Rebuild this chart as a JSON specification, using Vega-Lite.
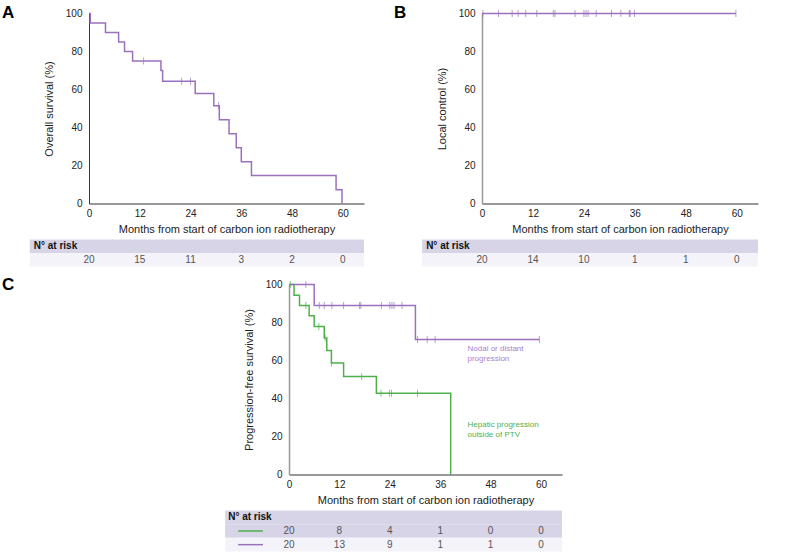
{
"$schema": "https://vega.github.io/schema/vega-lite/v6.json",
"background": "white",
"padding": {"left": 2, "top": 3.5, "right": 5, "bottom": 5},
"config": {
  "font": "Liberation Sans",
  "view": {"stroke": null},
  "axis": {"grid": false, "ticks": false, "labelFontSize": 10, "titleFontSize": 11, "titleFontWeight": "normal", "labelColor": "#222", "titleColor": "#222", "domainColor": "#333", "domainWidth": 1, "labelOverlap": false, "labelFlush": false},
  "axisX": {"labelPadding": 5, "titlePadding": 5, "tickCount": 8},
  "axisY": {"labelPadding": 7, "titlePadding": 11, "tickCount": 8},
  "title": {"anchor": "start", "frame": "group", "fontSize": 17, "fontWeight": "bold", "color": "#000"}
},
"datasets": {
  "os": [{"t":0,"s":100},{"t":0.3,"s":95},{"t":3.9,"s":90},{"t":7.0,"s":85},{"t":8.4,"s":80},{"t":10.3,"s":75},{"t":17.0,"s":70},{"t":17.4,"s":64.3},{"t":25.1,"s":57.9},{"t":29.5,"s":51.4},{"t":30.8,"s":44.1},{"t":33.1,"s":36.7},{"t":34.8,"s":29.4},{"t":36.0,"s":22.0},{"t":38.4,"s":14.7},{"t":58.4,"s":7.3},{"t":59.8,"s":0}],
  "os_cens": [{"t":12.9,"s":75},{"t":21.9,"s":64.3},{"t":24.0,"s":64.3},{"t":30.6,"s":51.4}],
  "lc": [{"t":0,"s":100},{"t":59.8,"s":100}],
  "lc_cens": [{"t":0.2,"s":100},{"t":3.9,"s":100},{"t":7.1,"s":100},{"t":8.5,"s":100},{"t":10.3,"s":100},{"t":12.9,"s":100},{"t":16.8,"s":100},{"t":17.2,"s":100},{"t":21.9,"s":100},{"t":24.0,"s":100},{"t":24.5,"s":100},{"t":25.0,"s":100},{"t":26.9,"s":100},{"t":30.5,"s":100},{"t":32.7,"s":100},{"t":34.7,"s":100},{"t":34.9,"s":100},{"t":35.9,"s":100},{"t":59.8,"s":100}],
  "pfs": [
    {"grp":"Hepatic","t":0,"s":100},{"grp":"Hepatic","t":1.2,"s":94.4},{"grp":"Hepatic","t":2.5,"s":88.9},{"grp":"Hepatic","t":4.8,"s":83.5},{"grp":"Hepatic","t":6.0,"s":77.9},{"grp":"Hepatic","t":8.4,"s":71.9},{"grp":"Hepatic","t":9.0,"s":65.2},{"grp":"Hepatic","t":10.1,"s":58.7},{"grp":"Hepatic","t":13.0,"s":51.6},{"grp":"Hepatic","t":20.8,"s":42.8},{"grp":"Hepatic","t":38.5,"s":0},
    {"grp":"Nodal","t":0,"s":100},{"grp":"Nodal","t":6.0,"s":88.9},{"grp":"Nodal","t":30.1,"s":71.1},{"grp":"Nodal","t":59.6,"s":71.1}
  ],
  "pfs_cens": [
    {"grp":"Hepatic","t":0.3,"s":100},{"grp":"Hepatic","t":4.0,"s":88.9},{"grp":"Hepatic","t":7.1,"s":77.9},{"grp":"Hepatic","t":8.6,"s":71.9},{"grp":"Hepatic","t":10.1,"s":58.7},{"grp":"Hepatic","t":17.3,"s":51.6},{"grp":"Hepatic","t":21.9,"s":42.8},{"grp":"Hepatic","t":23.9,"s":42.8},{"grp":"Hepatic","t":24.4,"s":42.8},{"grp":"Hepatic","t":30.6,"s":42.8},
    {"grp":"Nodal","t":4.0,"s":100},{"grp":"Nodal","t":7.2,"s":88.9},{"grp":"Nodal","t":8.4,"s":88.9},{"grp":"Nodal","t":10.2,"s":88.9},{"grp":"Nodal","t":13.0,"s":88.9},{"grp":"Nodal","t":16.8,"s":88.9},{"grp":"Nodal","t":17.1,"s":88.9},{"grp":"Nodal","t":22.0,"s":88.9},{"grp":"Nodal","t":24.0,"s":88.9},{"grp":"Nodal","t":24.5,"s":88.9},{"grp":"Nodal","t":25.0,"s":88.9},{"grp":"Nodal","t":26.9,"s":88.9},{"grp":"Nodal","t":30.6,"s":71.1},{"grp":"Nodal","t":32.9,"s":71.1},{"grp":"Nodal","t":34.8,"s":71.1},{"grp":"Nodal","t":59.6,"s":71.1}
  ],
  "riskA": [{"row":"r1","t":0,"n":20},{"row":"r1","t":12,"n":15},{"row":"r1","t":24,"n":11},{"row":"r1","t":36,"n":3},{"row":"r1","t":48,"n":2},{"row":"r1","t":60,"n":0}],
  "riskB": [{"row":"r1","t":0,"n":20},{"row":"r1","t":12,"n":14},{"row":"r1","t":24,"n":10},{"row":"r1","t":36,"n":1},{"row":"r1","t":48,"n":1},{"row":"r1","t":60,"n":0}],
  "riskC": [{"row":"g","t":0,"n":20},{"row":"g","t":12,"n":8},{"row":"g","t":24,"n":4},{"row":"g","t":36,"n":1},{"row":"g","t":48,"n":0},{"row":"g","t":60,"n":0},
            {"row":"p","t":0,"n":20},{"row":"p","t":12,"n":13},{"row":"p","t":24,"n":9},{"row":"p","t":36,"n":1},{"row":"p","t":48,"n":1},{"row":"p","t":60,"n":0}]
},
"spacing": 9,
"vconcat": [
  {"hconcat": [
    {"vconcat": [
      {"width": 275, "height": 190,
       "title": {"text": "A", "dx": -87, "offset": -13},
       "layer": [
         {"data": {"name": "os"}, "mark": {"type": "line", "interpolate": "step-after", "color": "#9b71bd", "strokeWidth": 1.5},
          "encoding": {
            "x": {"field": "t", "type": "quantitative", "scale": {"domain": [0, 65]}, "axis": {"values": [0,12,24,36,48,60], "tickCount": 8, "title": "Months from start of carbon ion radiotherapy"}},
            "y": {"field": "s", "type": "quantitative", "scale": {"domain": [0, 100]}, "axis": {"values": [0,20,40,60,80,100], "tickCount": 8, "labelOverlap": false, "title": "Overall survival (%)"}}}},
         {"data": {"name": "os_cens"}, "mark": {"type": "tick", "orient": "vertical", "size": 7, "thickness": 1, "color": "#9b71bd"},
          "encoding": {"x": {"field": "t", "type": "quantitative"}, "y": {"field": "s", "type": "quantitative"}}}
       ]},
      {"width": 275, "height": 27,
       "layer": [
         {"data": {"values": [{"row": "hdr"}, {"row": "r1"}]}, "mark": {"type": "rect"},
          "encoding": {
            "x": {"datum": -14, "type": "quantitative", "scale": {"domain": [0, 65]}, "axis": null},
            "x2": {"datum": 65},
            "y": {"field": "row", "type": "nominal", "scale": {"domain": ["hdr", "r1"], "paddingInner": 0, "paddingOuter": 0}, "axis": null},
            "fill": {"field": "row", "type": "nominal", "scale": {"domain": ["hdr", "r1"], "range": ["#d7d4e7", "#f4f3f9"]}, "legend": null}}},
         {"data": {"values": [{"row": "hdr", "label": "N° at risk"}]}, "mark": {"type": "text", "align": "left", "dx": 4, "fontSize": 10, "fontWeight": "bold", "color": "#111"},
          "encoding": {"x": {"datum": -14, "type": "quantitative"}, "y": {"field": "row", "type": "nominal"}, "text": {"field": "label"}}},
         {"data": {"name": "riskA"}, "mark": {"type": "text", "fontSize": 10, "color": "#555"},
          "encoding": {"x": {"field": "t", "type": "quantitative"}, "y": {"field": "row", "type": "nominal"}, "text": {"field": "n"}}}
       ]}
    ], "bounds": "flush", "spacing": 36},
    {"vconcat": [
      {"width": 276, "height": 190,
       "title": {"text": "B", "dx": -88, "offset": -13},
       "layer": [
         {"data": {"name": "lc"}, "mark": {"type": "line", "interpolate": "step-after", "color": "#9b71bd", "strokeWidth": 1.5},
          "encoding": {
            "x": {"field": "t", "type": "quantitative", "scale": {"domain": [0, 65]}, "axis": {"values": [0,12,24,36,48,60], "tickCount": 8, "title": "Months from start of carbon ion radiotherapy"}},
            "y": {"field": "s", "type": "quantitative", "scale": {"domain": [0, 100]}, "axis": {"values": [0,20,40,60,80,100], "tickCount": 8, "labelOverlap": false, "title": "Local control (%)", "domainColor": "#999", "domainWidth": 1.5}}}},
         {"data": {"name": "lc_cens"}, "mark": {"type": "tick", "orient": "vertical", "size": 7, "thickness": 1, "color": "#9b71bd"},
          "encoding": {"x": {"field": "t", "type": "quantitative"}, "y": {"field": "s", "type": "quantitative"}}}
       ]},
      {"width": 276, "height": 27,
       "layer": [
         {"data": {"values": [{"row": "hdr"}, {"row": "r1"}]}, "mark": {"type": "rect"},
          "encoding": {
            "x": {"datum": -14.1, "type": "quantitative", "scale": {"domain": [0, 65]}, "axis": null},
            "x2": {"datum": 65},
            "y": {"field": "row", "type": "nominal", "scale": {"domain": ["hdr", "r1"], "paddingInner": 0, "paddingOuter": 0}, "axis": null},
            "fill": {"field": "row", "type": "nominal", "scale": {"domain": ["hdr", "r1"], "range": ["#d7d4e7", "#f4f3f9"]}, "legend": null}}},
         {"data": {"values": [{"row": "hdr", "label": "N° at risk"}]}, "mark": {"type": "text", "align": "left", "dx": 4, "fontSize": 10, "fontWeight": "bold", "color": "#111"},
          "encoding": {"x": {"datum": -14.1, "type": "quantitative"}, "y": {"field": "row", "type": "nominal"}, "text": {"field": "label"}}},
         {"data": {"name": "riskB"}, "mark": {"type": "text", "fontSize": 10, "color": "#555"},
          "encoding": {"x": {"field": "t", "type": "quantitative"}, "y": {"field": "row", "type": "nominal"}, "text": {"field": "n"}}}
       ]}
    ], "bounds": "flush", "spacing": 36}
  ], "spacing": 30},
  {"hconcat": [
    {"width": 100, "height": 1,
     "title": {"text": "C", "dx": -87, "offset": -9},
     "data": {"values": []},
     "mark": {"type": "point", "opacity": 0}},
    {"vconcat": [
      {"width": 273, "height": 190,
       "layer": [
         {"data": {"name": "pfs"}, "mark": {"type": "line", "interpolate": "step-after", "strokeWidth": 1.5},
          "encoding": {
            "x": {"field": "t", "type": "quantitative", "scale": {"domain": [0, 65]}, "axis": {"values": [0,12,24,36,48,60], "tickCount": 8, "title": "Months from start of carbon ion radiotherapy"}},
            "y": {"field": "s", "type": "quantitative", "scale": {"domain": [0, 100]}, "axis": {"values": [0,20,40,60,80,100], "tickCount": 8, "labelOverlap": false, "title": "Progression-free survival (%)", "domainColor": "#999", "domainWidth": 1.5}},
            "color": {"field": "grp", "type": "nominal", "scale": {"domain": ["Hepatic", "Nodal"], "range": ["#4fb04b", "#9b71bd"]}, "legend": null}}},
         {"data": {"name": "pfs_cens"}, "mark": {"type": "tick", "orient": "vertical", "size": 7, "thickness": 1},
          "encoding": {"x": {"field": "t", "type": "quantitative"}, "y": {"field": "s", "type": "quantitative"},
            "color": {"field": "grp", "type": "nominal"}}},
         {"data": {"values": [{"label": "Nodal or distant\nprogression"}]}, "mark": {"type": "text", "align": "left", "baseline": "middle", "lineBreak": "\n", "lineHeight": 10, "fontSize": 8, "color": "#a983cc"},
          "encoding": {"x": {"datum": 42.5}, "y": {"datum": 66.3}, "text": {"field": "label"}}},
         {"data": {"values": [{"label": "Hepatic progression\noutside of PTV"}]}, "mark": {"type": "text", "align": "left", "baseline": "middle", "lineBreak": "\n", "lineHeight": 10, "fontSize": 8, "color": "#4fb04b"},
          "encoding": {"x": {"datum": 42.5}, "y": {"datum": 26.2}, "text": {"field": "label"}}}
       ]},
      {"width": 273, "height": 41,
       "layer": [
         {"data": {"values": [{"row": "hdr"}, {"row": "g"}, {"row": "p"}]}, "mark": {"type": "rect"},
          "encoding": {
            "x": {"datum": -15.2, "type": "quantitative", "scale": {"domain": [0, 65]}, "axis": null},
            "x2": {"datum": 65},
            "y": {"field": "row", "type": "nominal", "scale": {"domain": ["hdr", "g", "p"], "paddingInner": 0, "paddingOuter": 0}, "axis": null},
            "fill": {"field": "row", "type": "nominal", "scale": {"domain": ["hdr", "g", "p"], "range": ["#d7d4e7", "#f5f4fa", "#eeedf5"]}, "legend": null}}},
         {"data": {"values": [{"row": "hdr", "label": "N° at risk"}]}, "mark": {"type": "text", "align": "left", "dx": 3, "fontSize": 10, "fontWeight": "bold", "color": "#111"},
          "encoding": {"x": {"datum": -15.2, "type": "quantitative"}, "y": {"field": "row", "type": "nominal"}, "text": {"field": "label"}}},
         {"data": {"values": [{"row": "g"}, {"row": "p"}]}, "mark": {"type": "rule", "strokeWidth": 1.5},
          "encoding": {"x": {"datum": -12.1, "type": "quantitative"}, "x2": {"datum": -6.2},
            "y": {"field": "row", "type": "nominal", "bandPosition": 0.5},
            "stroke": {"field": "row", "type": "nominal", "scale": {"domain": ["g", "p"], "range": ["#4fb04b", "#9b71bd"]}, "legend": null}}},
         {"data": {"name": "riskC"}, "mark": {"type": "text", "fontSize": 10, "color": "#555"},
          "encoding": {"x": {"field": "t", "type": "quantitative"}, "y": {"field": "row", "type": "nominal"}, "text": {"field": "n"}}}
       ]}
    ], "bounds": "flush", "spacing": 36}
  ], "spacing": 36}
]
}
